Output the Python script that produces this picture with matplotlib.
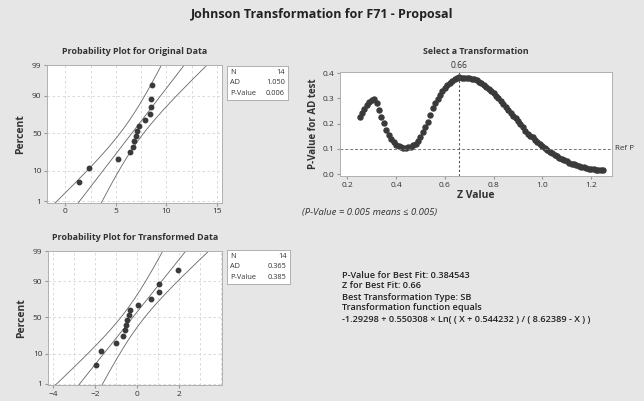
import numpy as np
import matplotlib.pyplot as plt
from statistics import NormalDist

plt.rcParams['font.family'] = ['Open Sans', 'DejaVu Sans']

# data
orig_data = [1.40, 2.33, 5.17, 6.38, 6.65, 6.80, 6.95, 7.08, 7.28, 7.90, 8.39, 8.49, 8.50, 8.60]
trans_data = [-1.98, -1.70, -1.00, -0.68, -0.58, -0.53, -0.46, -0.40, -0.34, 0.06, 0.69, 1.04, 1.06, 1.95]
orig_stats = [("N", "14"), ("AD", "1.050"), ("P-Value", "0.006")]
trans_stats = [("N", "14"), ("AD", "0.365"), ("P-Value", "0.385")]

z_values = np.round(np.arange(0.25, 1.2501, 0.01), 2)
p_values = [0.228, 0.243, 0.258, 0.273, 0.287, 0.295, 0.297, 0.282, 0.255, 0.226,
            0.201, 0.176, 0.155, 0.138, 0.126, 0.117, 0.110, 0.106, 0.105, 0.105,
            0.106, 0.109, 0.114, 0.120, 0.131, 0.147, 0.166, 0.186, 0.208, 0.236,
            0.262, 0.282, 0.299, 0.314, 0.328, 0.341, 0.352, 0.362, 0.370, 0.376,
            0.381, 0.3845, 0.382, 0.381, 0.381, 0.380, 0.378, 0.377, 0.372, 0.366,
            0.361, 0.354, 0.347, 0.339, 0.330, 0.321, 0.311, 0.301, 0.290, 0.279,
            0.267, 0.255, 0.244, 0.232, 0.221, 0.209, 0.197, 0.186, 0.172, 0.160,
            0.152, 0.145, 0.136, 0.127, 0.119, 0.111, 0.104, 0.096, 0.089, 0.082,
            0.076, 0.070, 0.064, 0.059, 0.054, 0.050, 0.045, 0.041, 0.038, 0.034,
            0.031, 0.028, 0.026, 0.023, 0.021, 0.019, 0.018, 0.017, 0.016, 0.015,
            0.014]
best_z = 0.66
ref_p = 0.10

result_lines = ["P-Value for Best Fit: 0.384543",
                "Z for Best Fit: 0.66",
                "Best Transformation Type: SB",
                "Transformation function equals",
                "-1.29298 + 0.550308 \u00d7 Ln( ( X + 0.544232 ) / ( 8.62389 - X ) )"]

nd = NormalDist()
pct_ticks = [1, 10, 50, 90, 99]
bg = '#e6e6e6'
txt = '#333333'
line_c = '#666666'

fig = plt.figure(figsize=(6.44, 4.01), dpi=100, facecolor=bg)
fig.text(0.5, 0.965, "Johnson Transformation for F71 - Proposal", ha='center', va='center',
         fontsize=9, fontweight='bold', color='#222222')


def prob_plot(ax, data, xlim, xmajor, xminor, title):
    data = np.sort(np.array(data))
    n = len(data)
    ranks = (np.arange(1, n + 1) - 0.3) / (n + 0.4)
    zq = np.array([nd.inv_cdf(r) for r in ranks])
    mu = data.mean()
    sd = data.std(ddof=1)
    zz = np.linspace(-3, 3, 200)
    fit = mu + sd * zz
    half = 1.96 * sd / np.sqrt(n) * np.sqrt(1 + zz ** 2 / 2)
    ax.plot(fit, zz, color=line_c, lw=0.6)
    ax.plot(fit - half, zz, color=line_c, lw=0.6)
    ax.plot(fit + half, zz, color=line_c, lw=0.6)
    ax.plot(data, zq, 'o', color='#3a3a3a', ms=3.2, mec='#3a3a3a')
    yt = [nd.inv_cdf(p / 100) for p in pct_ticks]
    ax.set_yticks(yt)
    ax.set_yticklabels([str(p) for p in pct_ticks])
    ax.set_ylim(nd.inv_cdf(0.01) - 0.05, nd.inv_cdf(0.99) + 0.01)
    ax.set_xlim(*xlim)
    ax.set_xticks(xmajor)
    ax.set_xticks(xminor, minor=True)
    ax.grid(True, which='both', axis='x', ls=(0, (3, 3)), color='#d4d4d4', lw=0.6)
    ax.grid(True, which='major', axis='y', ls=(0, (3, 3)), color='#d4d4d4', lw=0.6)
    ax.tick_params(which='minor', length=0)
    ax.tick_params(labelsize=6, length=2, color='#999999', labelcolor=txt, pad=2)
    ax.set_ylabel("Percent", fontsize=7.5, fontweight='bold', color=txt, labelpad=4)
    ax.set_title(title, fontsize=6.4, fontweight='bold', color=txt, pad=8)
    for s in ax.spines.values():
        s.set_color('#b0b0b0')
        s.set_linewidth(0.7)


def stats_box(rect, rows):
    bx = fig.add_axes(rect)
    bx.set_xticks([])
    bx.set_yticks([])
    for s in bx.spines.values():
        s.set_color('#b0b0b0')
        s.set_linewidth(0.7)
    for i, (k, v) in enumerate(rows):
        y = 0.8 - i * 0.3
        bx.text(0.06, y, k, fontsize=5.3, color=txt, va='center', ha='left')
        bx.text(0.95, y, v, fontsize=5.3, color=txt, va='center', ha='right')


ax1 = fig.add_axes([0.073, 0.494, 0.272, 0.344])
prob_plot(ax1, orig_data, (-1.8, 15.5), [0, 5, 10, 15], np.arange(0, 15.1, 2.5),
          "Probability Plot for Original Data")
stats_box([0.352, 0.751, 0.095, 0.085], orig_stats)

ax3 = fig.add_axes([0.0745, 0.040, 0.270, 0.334])
prob_plot(ax3, trans_data, (-4.25, 4.05), [-4, -2, 0, 2], np.arange(-4, 4.1, 1),
          "Probability Plot for Transformed Data")
stats_box([0.352, 0.292, 0.098, 0.085], trans_stats)

# p-value vs z
ax2 = fig.add_axes([0.528, 0.561, 0.422, 0.259])
ax2.plot(z_values, p_values, 'o', color='#3a3a3a', ms=3.6, mec='#3a3a3a')
ax2.axhline(ref_p, color='#777777', lw=0.7, ls=(0, (3, 2)))
ax2.axvline(best_z, color='#555555', lw=0.8, ls=(0, (2, 2)))
ax2.set_xlim(0.17, 1.285)
ax2.set_ylim(-0.008, 0.404)
ax2.set_xticks([0.2, 0.4, 0.6, 0.8, 1.0, 1.2])
ax2.set_xticklabels(['0.2', '0.4', '0.6', '0.8', '1.0', '1.2'])
ax2.set_yticks([0.0, 0.1, 0.2, 0.3, 0.4])
ax2.set_yticklabels(['0.0', '0.1', '0.2', '0.3', '0.4'])
ax2.tick_params(labelsize=6, length=2, color='#999999', labelcolor=txt, pad=2)
ax2.set_xlabel("Z Value", fontsize=7.5, fontweight='bold', color=txt, labelpad=1)
ax2.set_ylabel("P-Value for AD test", fontsize=7, fontweight='bold', color=txt, labelpad=3)
ax2.set_title("Select a Transformation", fontsize=6.4, fontweight='bold', color=txt, pad=13)
ax2.text(best_z, 1.02, "0.66", transform=ax2.get_xaxis_transform(), ha='center', va='bottom',
         fontsize=6.2, color=txt)
ax2.text(1.012, ref_p, "Ref P", transform=ax2.get_yaxis_transform(), ha='left', va='center',
         fontsize=5.8, color=txt)
for s in ax2.spines.values():
    s.set_color('#b0b0b0')
    s.set_linewidth(0.7)

fig.text(0.469, 0.469, "(P-Value = 0.005 means \u2264 0.005)", fontsize=6.8, style='italic',
         color=txt, ha='left', va='center')

for i, line in enumerate(result_lines):
    fig.text(0.531, 1 - (275 + i * 11) / 401, line, fontsize=6.6, color='#222222',
             ha='left', va='center', fontweight='semibold')

fig.savefig("out.png", dpi=100, facecolor=bg)
